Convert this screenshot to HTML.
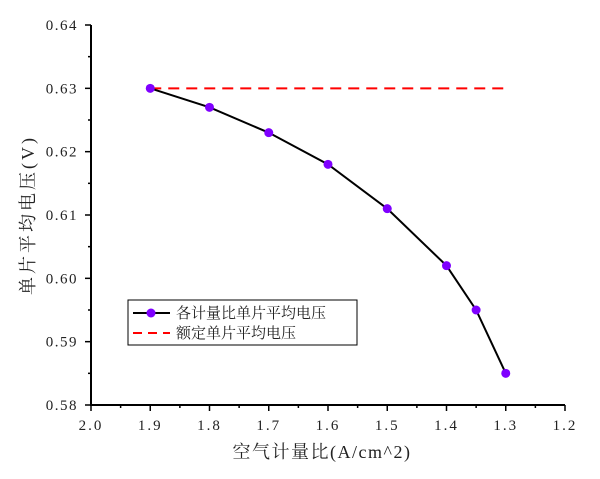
<!DOCTYPE html>
<html><head><meta charset="utf-8"><style>
body{margin:0;background:#fff;}
svg text{font-family:"Liberation Serif","Noto Serif CJK SC",serif;fill:#222;}
</style></head><body>
<svg id="c" width="600" height="474"></svg>
<script>
const xVals=[1.9,1.8,1.7,1.6,1.5,1.4,1.35,1.3];
const yVals=[0.630,0.627,0.623,0.618,0.611,0.602,0.595,0.585];
const ratedY=[0.63];
const xTicks=["2.0","1.9","1.8","1.7","1.6","1.5","1.4","1.3","1.2"];
const yTicks=["0.58","0.59","0.60","0.61","0.62","0.63","0.64"];
const NS="http://www.w3.org/2000/svg";
const svg=document.getElementById('c');
const X=v=>91+(2.0-v)/0.8*474;
const Y=v=>405-(v-0.58)/0.06*380;
function el(t,a,p){const e=document.createElementNS(NS,t);for(const k in a)e.setAttribute(k,a[k]);(p||svg).appendChild(e);return e;}
let e;
e=el('line',{x1:91,y1:25,x2:91,y2:406,stroke:'#000','stroke-width':2});


e=el('line',{x1:90,y1:405,x2:565,y2:405,stroke:'#000','stroke-width':2});


xTicks.forEach((t,i)=>{const v=parseFloat(t);const x=X(v);
el('line',{x1:x,y1:405,x2:x,y2:411,stroke:'#000','stroke-width':1.5});
if(i<xTicks.length-1)el('line',{x1:X(v-0.05),y1:405,x2:X(v-0.05),y2:408,stroke:'#000','stroke-width':1.5});
e=el('text',{x:x,y:430,'text-anchor':'middle','font-size':15,'letter-spacing':2});e.textContent=t;

});
yTicks.forEach((t,i)=>{const v=parseFloat(t);const y=Y(v);
el('line',{x1:85,y1:y,x2:91,y2:y,stroke:'#000','stroke-width':1.5});
if(i<yTicks.length-1)el('line',{x1:88,y1:Y(v+0.005),x2:91,y2:Y(v+0.005),stroke:'#000','stroke-width':1.5});
e=el('text',{x:78,y:y+5,'text-anchor':'end','font-size':15,'letter-spacing':1.5});e.textContent=t;

});
e=el('text',{x:322,y:458,'text-anchor':'middle','font-size':18,'letter-spacing':1.5});e.textContent='空气计量比(A/cm^2)';


e=el('text',{x:0,y:0,'text-anchor':'middle','font-size':18,'letter-spacing':3,transform:'translate(34,215) rotate(-90)'});e.textContent='单片平均电压(V)';


e=el('line',{x1:X(xVals[0]),y1:Y(ratedY[0]),x2:X(xVals[xVals.length-1]),y2:Y(ratedY[0]),stroke:'#f00','stroke-width':2,'stroke-dasharray':'11,7'});


e=el('polyline',{points:xVals.map((x,i)=>X(x)+','+Y(yVals[i])).join(' '),fill:'none',stroke:'#000','stroke-width':2});


xVals.forEach((x,i)=>{e=el('circle',{cx:X(x),cy:Y(yVals[i]),r:4.5,fill:'#7f00ff'});

});
const lg=el('g',{});


el('rect',{x:128,y:300,width:229,height:45,fill:'#fff',stroke:'#000','stroke-width':1},lg);
el('line',{x1:133,y1:313,x2:170,y2:313,stroke:'#000','stroke-width':2},lg);
el('circle',{cx:151,cy:313,r:4.5,fill:'#7f00ff'},lg);
e=el('text',{x:176,y:318,'font-size':15},lg);e.textContent='各计量比单片平均电压';


el('line',{x1:133,y1:333,x2:170,y2:333,stroke:'#f00','stroke-width':2,'stroke-dasharray':'9,6'},lg);
e=el('text',{x:176,y:338,'font-size':15},lg);e.textContent='额定单片平均电压';


</script>
</body></html>
